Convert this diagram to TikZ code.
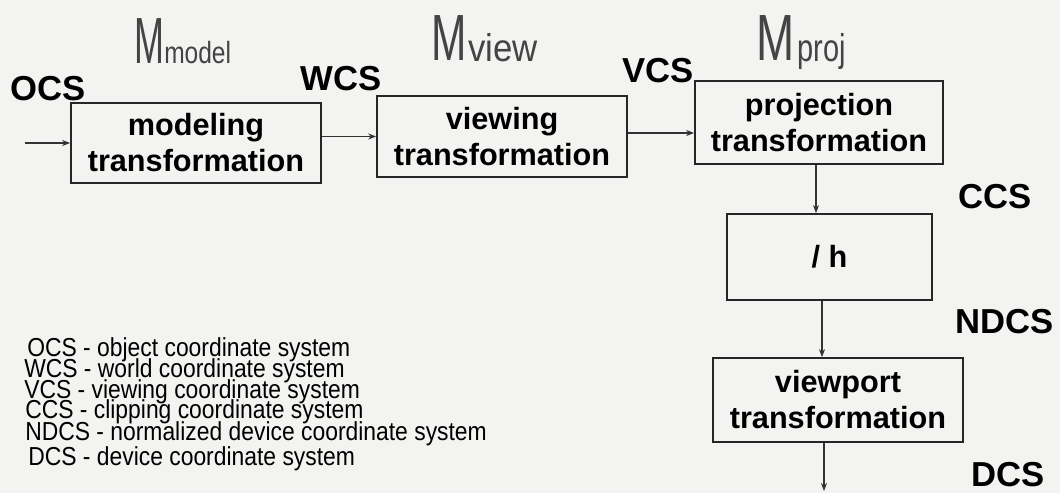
\documentclass[tikz,border=0pt]{standalone}
\usepackage{fontspec}
\newfontfamily\arial{Liberation Sans}
\usetikzlibrary{arrows.meta,calc}
\definecolor{paper}{RGB}{243,243,241}
\definecolor{pen}{RGB}{68,68,68}
\begin{document}
\begin{tikzpicture}[x=0.75pt,y=-0.75pt,
  box/.style={draw=black!85, line width=1.3pt, inner sep=0pt, align=center,
    font=\arial\bfseries\fontsize{23}{27}\selectfont, text=black},
  lab/.style={inner sep=0pt, font=\arial\bfseries\fontsize{26}{30}\selectfont},
  leg/.style={inner sep=0pt, anchor=base west, font=\arial\fontsize{19.5}{20}\selectfont},
  hand/.style={inner sep=0pt, anchor=base west, text=pen},
  arr/.style={draw=black!80, line width=0.9pt, -{Stealth[length=6pt,width=4.5pt]}}
]
\useasboundingbox (0,0) rectangle (1060,493);
\fill[paper] (0,0) rectangle (1060,493);

% boxes
\node[box, minimum width=250*0.75pt, minimum height=80*0.75pt] (model) at (196,143) {modeling\\transformation};
\node[box, minimum width=250*0.75pt, minimum height=81*0.75pt] (view) at (502,136.5) {viewing\\transformation};
\node[box, minimum width=248*0.75pt, minimum height=83*0.75pt] (proj) at (819,122.5) {projection\\transformation};
\node[box, minimum width=205*0.75pt, minimum height=86*0.75pt] (h) at (829.5,257) {/ h};
\node[box, minimum width=250*0.75pt, minimum height=84*0.75pt] (vp) at (838,400) {viewport\\transformation};

% connectors
\coordinate (in) at (25,143);
\coordinate (out) at (824,491);
\draw[arr] (in) -- (model.west);
\draw[arr] (model.east |- view.west) -- (view.west);
\draw[arr] ($(view.east)+(0,-3.5)$) coordinate (a2) -- (a2 -| proj.west);
\draw[arr] ($(proj.south)+(-3,0)$) coordinate (a3) -- (a3 |- h.north);
\draw[arr] ($(h.south)+(-7.5,0)$) coordinate (a4) -- (a4 |- vp.north);
\draw[arr] (vp.south -| out) -- (out);

% coordinate system labels
\node[lab] (ocs) at (48,89) {OCS};
\node[lab] (wcs) at (341,79) {WCS};
\node[lab] (vcs) at (658,71) {VCS};
\node[lab] (ccs) at (995,197) {CCS};
\node[lab] (ndcs) at (1005,322) {NDCS};
\node[lab] (dcs) at (1008,475) {DCS};

% handwritten matrices
\node[hand, font=\arial\fontsize{49}{49}\selectfont] (m1) at (134,63) {\scalebox{0.55}[1]{M}};
\node[hand, font=\arial\fontsize{23}{23}\selectfont] (s1) at (164,63) {\scalebox{0.8}[1]{model}};
\node[hand, font=\arial\fontsize{49}{49}\selectfont] (m2) at (431,60) {\scalebox{0.65}[1]{M}};
\node[hand, font=\arial\fontsize{29}{29}\selectfont] (s2) at (468,61) {\scalebox{0.9}[1]{view}};
\node[hand, font=\arial\fontsize{49}{49}\selectfont] (m3) at (756,60) {\scalebox{0.7}[1]{M}};
\node[hand, font=\arial\fontsize{29}{29}\selectfont] (s3) at (797,61) {\scalebox{0.75}[1]{proj}};

% legend
\node[leg] (l1) at (27,356) {\scalebox{0.88}[1]{OCS - object coordinate system}};
\node[leg] (l2) at (24,377) {\scalebox{0.88}[1]{WCS - world coordinate system}};
\node[leg] (l3) at (24,398) {\scalebox{0.88}[1]{VCS - viewing coordinate system}};
\node[leg] (l4) at (25,418) {\scalebox{0.88}[1]{CCS - clipping coordinate system}};
\node[leg] (l5) at (25,440) {\scalebox{0.88}[1]{NDCS - normalized device coordinate system}};
\node[leg] (l6) at (28,465) {\scalebox{0.88}[1]{DCS - device coordinate system}};
\end{tikzpicture}
\end{document}
